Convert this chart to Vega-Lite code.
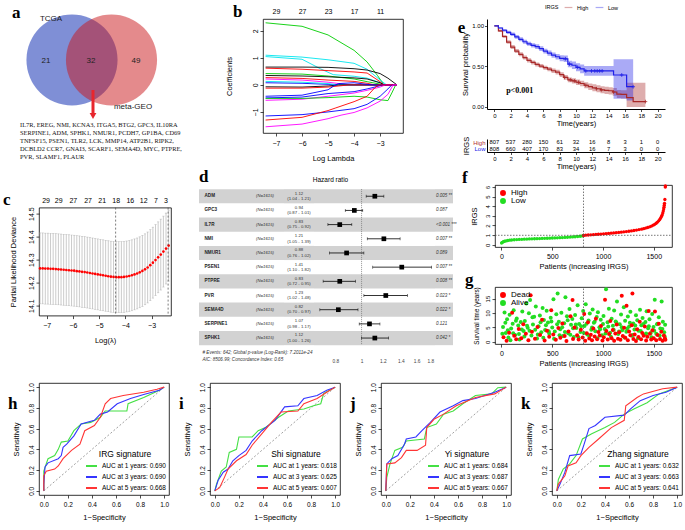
{
  "$schema": "https://vega.github.io/schema/vega-lite/v6.json",
  "background": "white",
  "padding": 2,
  "config": {
    "font": "Liberation Sans",
    "view": {"stroke": "#000", "strokeWidth": 0.8},
    "axis": {"labelFont": "Liberation Sans", "titleFont": "Liberation Sans", "labelFontSize": 7, "titleFontSize": 7.5, "titleFontWeight": "normal", "labelColor": "#000", "titleColor": "#000", "domain": false, "tickColor": "#000", "tickSize": 3, "tickWidth": 0.7, "grid": false, "labelPadding": 2, "titlePadding": 6, "labelFlush": false, "labelOverlap": false},
    "axisLeft": {"labelAngle": -90},
    "title": {"font": "Liberation Serif", "fontSize": 17, "fontWeight": "bold", "anchor": "start", "frame": "bounds", "color": "#000"},
    "legend": {"labelFont": "Liberation Sans", "titleFont": "Liberation Sans", "labelColor": "#000", "titleColor": "#000", "labelFontSize": 7, "titleFontSize": 7, "titleFontWeight": "normal"},
    "text": {"font": "Liberation Sans"}
  },
  "datasets": {
    "lasso": [
      {"g":"L1","x":-7.4,"y":2.3},{"g":"L1","x":-6,"y":2.17},{"g":"L1","x":-5,"y":1.85},{"g":"L1","x":-4,"y":1.28},{"g":"L1","x":-3.5,"y":0.85},{"g":"L1","x":-3.1,"y":0.35},{"g":"L1","x":-2.85,"y":0},{"g":"L1","x":-2.35,"y":0},
      {"g":"L2","x":-7.4,"y":1.1},{"g":"L2","x":-6,"y":1.03},{"g":"L2","x":-5,"y":0.93},{"g":"L2","x":-4,"y":0.8},{"g":"L2","x":-3.5,"y":0.58},{"g":"L2","x":-3,"y":0.18},{"g":"L2","x":-2.75,"y":0},{"g":"L2","x":-2.35,"y":0},
      {"g":"L3","x":-7.4,"y":1.05},{"g":"L3","x":-6,"y":0.95},{"g":"L3","x":-5.3,"y":0.6},{"g":"L3","x":-4.8,"y":0.38},{"g":"L3","x":-4,"y":0.32},{"g":"L3","x":-3.5,"y":0.25},{"g":"L3","x":-3,"y":0.08},{"g":"L3","x":-2.8,"y":0},{"g":"L3","x":-2.35,"y":0},
      {"g":"L4","x":-7.4,"y":0.66},{"g":"L4","x":-6,"y":0.66},{"g":"L4","x":-5,"y":0.65},{"g":"L4","x":-4,"y":0.6},{"g":"L4","x":-3.5,"y":0.55},{"g":"L4","x":-3,"y":0.42},{"g":"L4","x":-2.7,"y":0.25},{"g":"L4","x":-2.35,"y":0},
      {"g":"L5","x":-7.4,"y":0.62},{"g":"L5","x":-6,"y":0.58},{"g":"L5","x":-5,"y":0.53},{"g":"L5","x":-4,"y":0.48},{"g":"L5","x":-3.5,"y":0.44},{"g":"L5","x":-3,"y":0.12},{"g":"L5","x":-2.85,"y":0},{"g":"L5","x":-2.35,"y":0},
      {"g":"L6","x":-7.4,"y":0.42},{"g":"L6","x":-6,"y":0.4},{"g":"L6","x":-5,"y":0.33},{"g":"L6","x":-4,"y":0.22},{"g":"L6","x":-3.5,"y":0.12},{"g":"L6","x":-3,"y":0.03},{"g":"L6","x":-2.9,"y":0},{"g":"L6","x":-2.35,"y":0},
      {"g":"L7","x":-7.4,"y":0.35},{"g":"L7","x":-6,"y":0.33},{"g":"L7","x":-5,"y":0.3},{"g":"L7","x":-4,"y":0.26},{"g":"L7","x":-3.5,"y":0.22},{"g":"L7","x":-3,"y":0.08},{"g":"L7","x":-2.85,"y":0},{"g":"L7","x":-2.35,"y":0},
      {"g":"L8","x":-7.4,"y":0.27},{"g":"L8","x":-6,"y":0.24},{"g":"L8","x":-5,"y":0.18},{"g":"L8","x":-4,"y":0.13},{"g":"L8","x":-3.5,"y":0.06},{"g":"L8","x":-3.2,"y":0},{"g":"L8","x":-2.35,"y":0},
      {"g":"L9","x":-7.4,"y":0.22},{"g":"L9","x":-6,"y":0.18},{"g":"L9","x":-5,"y":0.1},{"g":"L9","x":-4.5,"y":0.04},{"g":"L9","x":-4.1,"y":0},{"g":"L9","x":-2.35,"y":0},
      {"g":"L10","x":-7.4,"y":0.08},{"g":"L10","x":-6,"y":0.06},{"g":"L10","x":-5,"y":0.02},{"g":"L10","x":-4.7,"y":0},{"g":"L10","x":-2.35,"y":0},
      {"g":"L11","x":-7.4,"y":0.13},{"g":"L11","x":-6,"y":0.1},{"g":"L11","x":-5,"y":0.05},{"g":"L11","x":-4.6,"y":0},{"g":"L11","x":-2.35,"y":0},
      {"g":"L12","x":-7.4,"y":-0.07},{"g":"L12","x":-6,"y":-0.08},{"g":"L12","x":-5,"y":-0.04},{"g":"L12","x":-4.6,"y":0},{"g":"L12","x":-2.35,"y":0},
      {"g":"L13","x":-7.4,"y":-0.12},{"g":"L13","x":-6,"y":-0.12},{"g":"L13","x":-5,"y":-0.08},{"g":"L13","x":-4.2,"y":0},{"g":"L13","x":-2.35,"y":0},
      {"g":"L14","x":-7.4,"y":-0.42},{"g":"L14","x":-6,"y":-0.38},{"g":"L14","x":-5,"y":-0.18},{"g":"L14","x":-4.8,"y":-0.05},{"g":"L14","x":-4.6,"y":0.05},{"g":"L14","x":-4,"y":0.08},{"g":"L14","x":-3.5,"y":0.02},{"g":"L14","x":-3.3,"y":0},{"g":"L14","x":-2.35,"y":0},
      {"g":"L15","x":-7.4,"y":-0.48},{"g":"L15","x":-6,"y":-0.45},{"g":"L15","x":-5,"y":-0.32},{"g":"L15","x":-4,"y":-0.25},{"g":"L15","x":-3.5,"y":-0.15},{"g":"L15","x":-3,"y":-0.03},{"g":"L15","x":-2.9,"y":0},{"g":"L15","x":-2.35,"y":0},
      {"g":"L16","x":-7.4,"y":-0.57},{"g":"L16","x":-6,"y":-0.53},{"g":"L16","x":-5,"y":-0.42},{"g":"L16","x":-4,"y":-0.3},{"g":"L16","x":-3.5,"y":-0.2},{"g":"L16","x":-3,"y":-0.08},{"g":"L16","x":-2.8,"y":0},{"g":"L16","x":-2.35,"y":0},
      {"g":"L17","x":-7.4,"y":-0.5},{"g":"L17","x":-6,"y":-0.5},{"g":"L17","x":-5,"y":-0.47},{"g":"L17","x":-4,"y":-0.42},{"g":"L17","x":-3.5,"y":-0.45},{"g":"L17","x":-3,"y":-0.55},{"g":"L17","x":-2.7,"y":-0.58},{"g":"L17","x":-2.55,"y":-0.3},{"g":"L17","x":-2.4,"y":0},{"g":"L17","x":-2.35,"y":0},
      {"g":"L18","x":-7.4,"y":-1.15},{"g":"L18","x":-6,"y":-1.1},{"g":"L18","x":-5,"y":-1.0},{"g":"L18","x":-4,"y":-0.88},{"g":"L18","x":-3.5,"y":-0.72},{"g":"L18","x":-3,"y":-0.42},{"g":"L18","x":-2.7,"y":-0.15},{"g":"L18","x":-2.55,"y":0},{"g":"L18","x":-2.35,"y":0},
      {"g":"L19","x":-7.4,"y":-1.3},{"g":"L19","x":-6,"y":-1.2},{"g":"L19","x":-5,"y":-0.95},{"g":"L19","x":-4.7,"y":-0.85},{"g":"L19","x":-4,"y":-0.62},{"g":"L19","x":-3.5,"y":-0.42},{"g":"L19","x":-3.2,"y":-0.1},{"g":"L19","x":-3.05,"y":0},{"g":"L19","x":-2.35,"y":0},
      {"g":"L20","x":-7.4,"y":-1.55},{"g":"L20","x":-6,"y":-1.45},{"g":"L20","x":-5,"y":-1.25},{"g":"L20","x":-4.5,"y":-1.12},{"g":"L20","x":-4,"y":-1.02},{"g":"L20","x":-3.5,"y":-0.85},{"g":"L20","x":-3,"y":-0.6},{"g":"L20","x":-2.7,"y":-0.35},{"g":"L20","x":-2.5,"y":0},{"g":"L20","x":-2.35,"y":0}
    ],
    "cv": [
      {"l":-7.25,"m":14.262,"lo":14.108,"hi":14.416},{"l":-7.15,"m":14.262,"lo":14.108,"hi":14.416},{"l":-7.05,"m":14.261,"lo":14.107,"hi":14.415},{"l":-6.95,"m":14.261,"lo":14.107,"hi":14.415},{"l":-6.85,"m":14.26,"lo":14.106,"hi":14.414},{"l":-6.75,"m":14.26,"lo":14.106,"hi":14.414},{"l":-6.65,"m":14.259,"lo":14.105,"hi":14.413},{"l":-6.55,"m":14.258,"lo":14.104,"hi":14.412},{"l":-6.45,"m":14.257,"lo":14.103,"hi":14.411},{"l":-6.35,"m":14.256,"lo":14.102,"hi":14.41},
      {"l":-6.25,"m":14.255,"lo":14.101,"hi":14.409},{"l":-6.15,"m":14.254,"lo":14.1,"hi":14.408},{"l":-6.05,"m":14.253,"lo":14.099,"hi":14.407},{"l":-5.95,"m":14.252,"lo":14.098,"hi":14.406},{"l":-5.85,"m":14.25,"lo":14.096,"hi":14.404},{"l":-5.75,"m":14.249,"lo":14.095,"hi":14.403},{"l":-5.65,"m":14.247,"lo":14.093,"hi":14.401},{"l":-5.55,"m":14.246,"lo":14.092,"hi":14.4},{"l":-5.45,"m":14.244,"lo":14.09,"hi":14.398},{"l":-5.35,"m":14.242,"lo":14.088,"hi":14.396},
      {"l":-5.25,"m":14.24,"lo":14.086,"hi":14.394},{"l":-5.15,"m":14.238,"lo":14.084,"hi":14.392},{"l":-5.05,"m":14.236,"lo":14.082,"hi":14.39},{"l":-4.95,"m":14.234,"lo":14.08,"hi":14.388},{"l":-4.85,"m":14.232,"lo":14.078,"hi":14.386},{"l":-4.75,"m":14.23,"lo":14.076,"hi":14.384},{"l":-4.65,"m":14.228,"lo":14.074,"hi":14.382},{"l":-4.55,"m":14.226,"lo":14.072,"hi":14.38},{"l":-4.45,"m":14.225,"lo":14.071,"hi":14.379},{"l":-4.35,"m":14.224,"lo":14.07,"hi":14.378},
      {"l":-4.25,"m":14.224,"lo":14.07,"hi":14.378},{"l":-4.15,"m":14.224,"lo":14.07,"hi":14.378},{"l":-4.05,"m":14.225,"lo":14.071,"hi":14.379},{"l":-3.95,"m":14.227,"lo":14.073,"hi":14.381},{"l":-3.85,"m":14.229,"lo":14.075,"hi":14.383},{"l":-3.75,"m":14.232,"lo":14.078,"hi":14.386},{"l":-3.65,"m":14.236,"lo":14.082,"hi":14.39},{"l":-3.55,"m":14.24,"lo":14.086,"hi":14.394},{"l":-3.45,"m":14.245,"lo":14.091,"hi":14.399},{"l":-3.35,"m":14.251,"lo":14.097,"hi":14.405},
      {"l":-3.25,"m":14.258,"lo":14.104,"hi":14.412},{"l":-3.15,"m":14.266,"lo":14.112,"hi":14.42},{"l":-3.05,"m":14.276,"lo":14.122,"hi":14.43},{"l":-2.95,"m":14.287,"lo":14.133,"hi":14.441},{"l":-2.85,"m":14.298,"lo":14.144,"hi":14.452},{"l":-2.75,"m":14.31,"lo":14.156,"hi":14.464},{"l":-2.65,"m":14.322,"lo":14.168,"hi":14.476},{"l":-2.55,"m":14.335,"lo":14.181,"hi":14.489},{"l":-2.45,"m":14.348,"lo":14.194,"hi":14.502},{"l":-2.35,"m":14.361,"lo":14.207,"hi":14.515}
    ],
    "forest": [
      {"gene":"ADM","n":"(N=1615)","hr":1.12,"lo":1.04,"hi":1.21,"hrt":"1.12","ci":"(1.04 - 1.21)","p":"0.005 **"},
      {"gene":"GPC3","n":"(N=1615)","hr":0.94,"lo":0.87,"hi":1.01,"hrt":"0.94","ci":"(0.87 - 1.01)","p":"0.087"},
      {"gene":"IL7R","n":"(N=1615)","hr":0.83,"lo":0.75,"hi":0.92,"hrt":"0.83","ci":"(0.75 - 0.92)","p":"<0.001 ***"},
      {"gene":"NMI","n":"(N=1615)","hr":1.21,"lo":1.05,"hi":1.39,"hrt":"1.21","ci":"(1.05 - 1.39)","p":"0.007 **"},
      {"gene":"NMUR1","n":"(N=1615)","hr":0.88,"lo":0.76,"hi":1.02,"hrt":"0.88","ci":"(0.76 - 1.02)","p":"0.089"},
      {"gene":"PSEN1","n":"(N=1615)","hr":1.41,"lo":1.1,"hi":1.82,"hrt":"1.41","ci":"(1.10 - 1.82)","p":"0.007 **"},
      {"gene":"PTPRE","n":"(N=1615)","hr":0.83,"lo":0.72,"hi":0.95,"hrt":"0.83","ci":"(0.72 - 0.95)","p":"0.008 **"},
      {"gene":"PVR","n":"(N=1615)","hr":1.23,"lo":1.02,"hi":1.48,"hrt":"1.23","ci":"(1.02 - 1.48)","p":"0.023 *"},
      {"gene":"SEMA4D","n":"(N=1615)","hr":0.82,"lo":0.7,"hi":0.97,"hrt":"0.82","ci":"(0.70 - 0.97)","p":"0.022 *"},
      {"gene":"SERPINE1","n":"(N=1615)","hr":1.07,"lo":0.98,"hi":1.17,"hrt":"1.07","ci":"(0.98 - 1.17)","p":"0.121"},
      {"gene":"SPHK1","n":"(N=1615)","hr":1.12,"lo":1.0,"hi":1.26,"hrt":"1.12","ci":"(1.00 - 1.26)","p":"0.042 *"}
    ],
    "km": [
      {"g":"High","t":0,"s":1,"lo":1,"hi":1},{"g":"High","t":0.5,"s":0.94,"lo":0.925,"hi":0.955},{"g":"High","t":1,"s":0.87,"lo":0.85,"hi":0.89},{"g":"High","t":1.5,"s":0.8,"lo":0.78,"hi":0.825},{"g":"High","t":2,"s":0.74,"lo":0.715,"hi":0.765},{"g":"High","t":2.5,"s":0.69,"lo":0.665,"hi":0.715},{"g":"High","t":3,"s":0.65,"lo":0.625,"hi":0.675},{"g":"High","t":3.5,"s":0.61,"lo":0.585,"hi":0.635},{"g":"High","t":4,"s":0.575,"lo":0.55,"hi":0.6},{"g":"High","t":4.5,"s":0.55,"lo":0.525,"hi":0.575},
      {"g":"High","t":5,"s":0.525,"lo":0.5,"hi":0.55},{"g":"High","t":5.5,"s":0.505,"lo":0.48,"hi":0.53},{"g":"High","t":6,"s":0.485,"lo":0.46,"hi":0.51},{"g":"High","t":6.5,"s":0.467,"lo":0.44,"hi":0.495},{"g":"High","t":7,"s":0.447,"lo":0.42,"hi":0.475},{"g":"High","t":7.5,"s":0.43,"lo":0.4,"hi":0.46},{"g":"High","t":8,"s":0.4,"lo":0.37,"hi":0.43},{"g":"High","t":8.5,"s":0.365,"lo":0.335,"hi":0.395},{"g":"High","t":9,"s":0.335,"lo":0.305,"hi":0.365},{"g":"High","t":9.5,"s":0.322,"lo":0.29,"hi":0.355},
      {"g":"High","t":10,"s":0.305,"lo":0.27,"hi":0.34},{"g":"High","t":10.5,"s":0.29,"lo":0.255,"hi":0.325},{"g":"High","t":11,"s":0.268,"lo":0.23,"hi":0.305},{"g":"High","t":11.5,"s":0.25,"lo":0.21,"hi":0.29},{"g":"High","t":12,"s":0.237,"lo":0.195,"hi":0.28},{"g":"High","t":12.5,"s":0.225,"lo":0.183,"hi":0.268},{"g":"High","t":13,"s":0.212,"lo":0.17,"hi":0.255},{"g":"High","t":13.5,"s":0.205,"lo":0.16,"hi":0.25},{"g":"High","t":14,"s":0.2,"lo":0.155,"hi":0.245},{"g":"High","t":14.5,"s":0.185,"lo":0.14,"hi":0.235},
      {"g":"High","t":15,"s":0.158,"lo":0.11,"hi":0.21},{"g":"High","t":15.5,"s":0.155,"lo":0.105,"hi":0.205},{"g":"High","t":16.2,"s":0.115,"lo":0.0,"hi":0.3},{"g":"High","t":17,"s":0.066,"lo":0.0,"hi":0.3},{"g":"High","t":18.5,"s":0.066,"lo":0.0,"hi":0.3},
      {"g":"Low","t":0,"s":1,"lo":1,"hi":1},{"g":"Low","t":0.5,"s":0.975,"lo":0.965,"hi":0.985},{"g":"Low","t":1,"s":0.947,"lo":0.93,"hi":0.962},{"g":"Low","t":1.5,"s":0.92,"lo":0.9,"hi":0.94},{"g":"Low","t":2,"s":0.897,"lo":0.875,"hi":0.918},{"g":"Low","t":2.5,"s":0.866,"lo":0.843,"hi":0.889},{"g":"Low","t":3,"s":0.835,"lo":0.81,"hi":0.86},{"g":"Low","t":3.5,"s":0.805,"lo":0.78,"hi":0.83},{"g":"Low","t":4,"s":0.78,"lo":0.755,"hi":0.805},{"g":"Low","t":4.5,"s":0.76,"lo":0.733,"hi":0.787},
      {"g":"Low","t":5,"s":0.745,"lo":0.717,"hi":0.773},{"g":"Low","t":5.5,"s":0.72,"lo":0.69,"hi":0.75},{"g":"Low","t":6,"s":0.69,"lo":0.66,"hi":0.72},{"g":"Low","t":6.5,"s":0.665,"lo":0.633,"hi":0.697},{"g":"Low","t":7,"s":0.64,"lo":0.607,"hi":0.673},{"g":"Low","t":7.5,"s":0.62,"lo":0.585,"hi":0.655},{"g":"Low","t":8,"s":0.6,"lo":0.563,"hi":0.637},{"g":"Low","t":8.5,"s":0.595,"lo":0.555,"hi":0.635},{"g":"Low","t":9,"s":0.53,"lo":0.49,"hi":0.57},{"g":"Low","t":9.5,"s":0.515,"lo":0.47,"hi":0.56},
      {"g":"Low","t":10,"s":0.49,"lo":0.44,"hi":0.54},{"g":"Low","t":10.5,"s":0.47,"lo":0.415,"hi":0.525},{"g":"Low","t":11,"s":0.445,"lo":0.385,"hi":0.505},{"g":"Low","t":14.6,"s":0.395,"lo":0.1,"hi":0.59},{"g":"Low","t":16.2,"s":0.25,"lo":0.08,"hi":0.59},{"g":"Low","t":17,"s":0.25,"lo":0.08,"hi":0.59}
    ],
    "cens": [
      {"g":"High","t":8.6,"s":0.365},{"g":"High","t":9.3,"s":0.335},{"g":"High","t":9.8,"s":0.322},{"g":"High","t":10.3,"s":0.305},{"g":"High","t":11.2,"s":0.268},{"g":"High","t":12.5,"s":0.225},{"g":"High","t":13.1,"s":0.212},{"g":"High","t":14.6,"s":0.185},{"g":"High","t":18.5,"s":0.066},
      {"g":"Low","t":8.7,"s":0.595},{"g":"Low","t":9.2,"s":0.53},{"g":"Low","t":10.2,"s":0.49},{"g":"Low","t":11.2,"s":0.445},{"g":"Low","t":11.9,"s":0.445},{"g":"Low","t":12.3,"s":0.445},{"g":"Low","t":12.6,"s":0.445},{"g":"Low","t":12.9,"s":0.445},{"g":"Low","t":13.2,"s":0.445},{"g":"Low","t":15.6,"s":0.395},{"g":"Low","t":17,"s":0.25}
    ],
    "risk": [
      {"g":"High","t":0,"n":"807"},{"g":"High","t":2,"n":"537"},{"g":"High","t":4,"n":"280"},{"g":"High","t":6,"n":"150"},{"g":"High","t":8,"n":"61"},{"g":"High","t":10,"n":"32"},{"g":"High","t":12,"n":"16"},{"g":"High","t":14,"n":"8"},{"g":"High","t":16,"n":"3"},{"g":"High","t":18,"n":"1"},{"g":"High","t":20,"n":"0"},
      {"g":"Low","t":0,"n":"808"},{"g":"Low","t":2,"n":"660"},{"g":"Low","t":4,"n":"407"},{"g":"Low","t":6,"n":"170"},{"g":"Low","t":8,"n":"83"},{"g":"Low","t":10,"n":"34"},{"g":"Low","t":12,"n":"16"},{"g":"Low","t":14,"n":"7"},{"g":"Low","t":16,"n":"3"},{"g":"Low","t":18,"n":"0"},{"g":"Low","t":20,"n":"0"}
    ],
    "rs": [
      {"g":"Low","p":1,"r":0.18},{"g":"Low","p":8,"r":0.25},{"g":"Low","p":18,"r":0.31},{"g":"Low","p":30,"r":0.36},{"g":"Low","p":45,"r":0.4},{"g":"Low","p":62,"r":0.44},{"g":"Low","p":80,"r":0.47},{"g":"Low","p":100,"r":0.49},{"g":"Low","p":125,"r":0.515},{"g":"Low","p":150,"r":0.535},{"g":"Low","p":175,"r":0.55},{"g":"Low","p":200,"r":0.565},{"g":"Low","p":225,"r":0.578},{"g":"Low","p":250,"r":0.59},{"g":"Low","p":275,"r":0.6},{"g":"Low","p":300,"r":0.612},{"g":"Low","p":325,"r":0.622},{"g":"Low","p":350,"r":0.633},{"g":"Low","p":375,"r":0.643},{"g":"Low","p":400,"r":0.653},{"g":"Low","p":425,"r":0.663},{"g":"Low","p":450,"r":0.674},{"g":"Low","p":475,"r":0.685},{"g":"Low","p":500,"r":0.697},{"g":"Low","p":525,"r":0.709},{"g":"Low","p":550,"r":0.721},{"g":"Low","p":575,"r":0.734},{"g":"Low","p":600,"r":0.747},{"g":"Low","p":625,"r":0.761},{"g":"Low","p":650,"r":0.776},{"g":"Low","p":675,"r":0.792},{"g":"Low","p":700,"r":0.81},{"g":"Low","p":725,"r":0.83},{"g":"Low","p":750,"r":0.855},{"g":"Low","p":775,"r":0.885},{"g":"Low","p":795,"r":0.92},{"g":"Low","p":807,"r":0.96},
      {"g":"High","p":808,"r":0.97},{"g":"High","p":830,"r":0.99},{"g":"High","p":855,"r":1.01},{"g":"High","p":880,"r":1.03},{"g":"High","p":905,"r":1.05},{"g":"High","p":930,"r":1.07},{"g":"High","p":955,"r":1.09},{"g":"High","p":980,"r":1.11},{"g":"High","p":1005,"r":1.13},{"g":"High","p":1030,"r":1.155},{"g":"High","p":1055,"r":1.18},{"g":"High","p":1080,"r":1.205},{"g":"High","p":1105,"r":1.23},{"g":"High","p":1130,"r":1.255},{"g":"High","p":1155,"r":1.28},{"g":"High","p":1180,"r":1.31},{"g":"High","p":1205,"r":1.34},{"g":"High","p":1230,"r":1.37},{"g":"High","p":1255,"r":1.4},{"g":"High","p":1280,"r":1.44},{"g":"High","p":1305,"r":1.48},{"g":"High","p":1330,"r":1.52},{"g":"High","p":1355,"r":1.57},{"g":"High","p":1380,"r":1.62},{"g":"High","p":1400,"r":1.67},{"g":"High","p":1420,"r":1.73},{"g":"High","p":1440,"r":1.79},{"g":"High","p":1460,"r":1.86},{"g":"High","p":1478,"r":1.94},{"g":"High","p":1495,"r":2.03},{"g":"High","p":1510,"r":2.12},{"g":"High","p":1524,"r":2.23},{"g":"High","p":1537,"r":2.35},{"g":"High","p":1549,"r":2.48},{"g":"High","p":1559,"r":2.62},{"g":"High","p":1568,"r":2.77},{"g":"High","p":1576,"r":2.93},{"g":"High","p":1583,"r":3.1},{"g":"High","p":1589,"r":3.3},{"g":"High","p":1594,"r":3.5},{"g":"High","p":1598,"r":3.7},{"g":"High","p":1601,"r":3.9},{"g":"High","p":1604,"r":4.1},{"g":"High","p":1606,"r":4.3},{"g":"High","p":1610,"r":4.7},{"g":"High","p":1614,"r":6.0},{"g":"High","p":1615,"r":6.1}
    ],
    "st": [
      {"g":"Alive","p":15,"t":5.2},{"g":"Alive","p":30,"t":10.2},{"g":"Alive","p":42,"t":3.1},{"g":"Alive","p":55,"t":7.8},{"g":"Alive","p":68,"t":1.5},{"g":"Alive","p":80,"t":9.4},{"g":"Alive","p":95,"t":4.6},{"g":"Alive","p":110,"t":6.3},{"g":"Alive","p":120,"t":11.0},{"g":"Alive","p":135,"t":2.4},{"g":"Alive","p":150,"t":8.1},{"g":"Alive","p":165,"t":5.7},{"g":"Alive","p":178,"t":0.8},{"g":"Alive","p":190,"t":6.9},{"g":"Alive","p":205,"t":10.5},{"g":"Alive","p":218,"t":3.8},{"g":"Alive","p":230,"t":7.2},{"g":"Alive","p":245,"t":13.3},{"g":"Alive","p":258,"t":4.9},{"g":"Alive","p":270,"t":9.9},{"g":"Alive","p":282,"t":14.5},{"g":"Alive","p":295,"t":2.2},{"g":"Alive","p":310,"t":6.0},{"g":"Alive","p":322,"t":8.7},{"g":"Alive","p":338,"t":12.3},{"g":"Alive","p":350,"t":1.2},{"g":"Alive","p":365,"t":5.4},{"g":"Alive","p":378,"t":9.1},{"g":"Alive","p":392,"t":3.3},{"g":"Alive","p":405,"t":11.7},{"g":"Alive","p":418,"t":7.6},{"g":"Alive","p":430,"t":4.1},{"g":"Alive","p":445,"t":10.8},{"g":"Alive","p":458,"t":6.7},{"g":"Alive","p":470,"t":2.9},{"g":"Alive","p":485,"t":8.4},{"g":"Alive","p":500,"t":5.0},{"g":"Alive","p":512,"t":14.8},{"g":"Alive","p":525,"t":3.6},{"g":"Alive","p":540,"t":9.6},{"g":"Alive","p":553,"t":16.8},{"g":"Alive","p":565,"t":7.0},{"g":"Alive","p":578,"t":4.4},{"g":"Alive","p":590,"t":10.1},{"g":"Alive","p":605,"t":2.0},{"g":"Alive","p":618,"t":6.5},{"g":"Alive","p":630,"t":15.5},{"g":"Alive","p":645,"t":8.9},{"g":"Alive","p":658,"t":3.0},{"g":"Alive","p":670,"t":11.4},{"g":"Alive","p":685,"t":5.9},{"g":"Alive","p":698,"t":7.9},{"g":"Alive","p":712,"t":1.7},{"g":"Alive","p":725,"t":9.3},{"g":"Alive","p":738,"t":4.8},{"g":"Alive","p":750,"t":12.7},{"g":"Alive","p":765,"t":6.2},{"g":"Alive","p":778,"t":3.4},{"g":"Alive","p":790,"t":8.2},{"g":"Alive","p":805,"t":10.7},{"g":"Alive","p":818,"t":5.5},{"g":"Alive","p":830,"t":13.0},{"g":"Alive","p":845,"t":2.6},{"g":"Alive","p":858,"t":7.4},{"g":"Alive","p":870,"t":9.8},{"g":"Alive","p":885,"t":4.2},{"g":"Alive","p":898,"t":11.2},{"g":"Alive","p":910,"t":6.6},{"g":"Alive","p":925,"t":3.7},{"g":"Alive","p":938,"t":8.6},{"g":"Alive","p":950,"t":10.3},{"g":"Alive","p":965,"t":5.1},{"g":"Alive","p":978,"t":7.7},{"g":"Alive","p":990,"t":2.3},{"g":"Alive","p":1005,"t":9.0},{"g":"Alive","p":1018,"t":4.5},{"g":"Alive","p":1030,"t":18.2},{"g":"Alive","p":1045,"t":6.8},{"g":"Alive","p":1058,"t":11.5},{"g":"Alive","p":1070,"t":3.2},{"g":"Alive","p":1085,"t":8.0},{"g":"Alive","p":1098,"t":5.6},{"g":"Alive","p":1110,"t":10.9},{"g":"Alive","p":1125,"t":7.1},{"g":"Alive","p":1138,"t":14.0},{"g":"Alive","p":1150,"t":2.7},{"g":"Alive","p":1165,"t":6.1},{"g":"Alive","p":1178,"t":9.5},{"g":"Alive","p":1190,"t":4.0},{"g":"Alive","p":1205,"t":12.0},{"g":"Alive","p":1218,"t":7.3},{"g":"Alive","p":1230,"t":3.5},{"g":"Alive","p":1245,"t":8.8},{"g":"Alive","p":1258,"t":5.3},{"g":"Alive","p":1270,"t":10.4},{"g":"Alive","p":1285,"t":2.1},{"g":"Alive","p":1298,"t":6.4},{"g":"Alive","p":1310,"t":4.3},{"g":"Alive","p":1325,"t":9.2},{"g":"Alive","p":1338,"t":7.5},{"g":"Alive","p":1350,"t":3.9},{"g":"Alive","p":1365,"t":11.1},{"g":"Alive","p":1378,"t":5.8},{"g":"Alive","p":1390,"t":8.3},{"g":"Alive","p":1405,"t":2.5},{"g":"Alive","p":1418,"t":6.9},{"g":"Alive","p":1430,"t":10.6},{"g":"Alive","p":1445,"t":4.7},{"g":"Alive","p":1458,"t":7.8},{"g":"Alive","p":1470,"t":3.1},{"g":"Alive","p":1485,"t":9.7},{"g":"Alive","p":1498,"t":5.2},{"g":"Alive","p":1510,"t":14.6},{"g":"Alive","p":1525,"t":2.8},{"g":"Alive","p":1538,"t":6.3},{"g":"Alive","p":1550,"t":8.5},{"g":"Alive","p":1565,"t":4.6},{"g":"Alive","p":1578,"t":14.0},{"g":"Alive","p":1590,"t":7.0},{"g":"Alive","p":1603,"t":3.3},{"g":"Alive","p":1612,"t":5.9},
      {"g":"Alive","p":8,"t":2.8},{"g":"Alive","p":38,"t":6.6},{"g":"Alive","p":62,"t":4.0},{"g":"Alive","p":88,"t":0.6},{"g":"Alive","p":115,"t":3.0},{"g":"Alive","p":142,"t":7.3},{"g":"Alive","p":172,"t":2.7},{"g":"Alive","p":200,"t":4.3},{"g":"Alive","p":225,"t":1.9},{"g":"Alive","p":252,"t":5.6},{"g":"Alive","p":276,"t":3.9},{"g":"Alive","p":305,"t":8.5},{"g":"Alive","p":332,"t":4.2},{"g":"Alive","p":358,"t":2.6},{"g":"Alive","p":385,"t":6.8},{"g":"Alive","p":412,"t":1.4},{"g":"Alive","p":438,"t":5.8},{"g":"Alive","p":465,"t":3.7},{"g":"Alive","p":492,"t":7.1},{"g":"Alive","p":518,"t":1.1},{"g":"Alive","p":548,"t":6.1},{"g":"Alive","p":572,"t":2.3},{"g":"Alive","p":598,"t":5.1},{"g":"Alive","p":625,"t":3.4},{"g":"Alive","p":652,"t":7.5},{"g":"Alive","p":678,"t":2.5},{"g":"Alive","p":705,"t":4.7},{"g":"Alive","p":732,"t":6.0},{"g":"Alive","p":758,"t":1.6},{"g":"Alive","p":785,"t":5.4},{"g":"Alive","p":812,"t":3.1},{"g":"Alive","p":838,"t":6.3},{"g":"Alive","p":865,"t":2.0},{"g":"Alive","p":892,"t":5.0},{"g":"Alive","p":918,"t":7.0},{"g":"Alive","p":945,"t":1.3},{"g":"Alive","p":972,"t":4.4},{"g":"Alive","p":1000,"t":6.2},{"g":"Alive","p":1025,"t":2.9},{"g":"Alive","p":1052,"t":5.3},{"g":"Alive","p":1078,"t":1.8},{"g":"Alive","p":1105,"t":4.2},{"g":"Alive","p":1132,"t":6.7},{"g":"Alive","p":1158,"t":3.6},{"g":"Alive","p":1185,"t":5.1},{"g":"Alive","p":1212,"t":1.5},{"g":"Alive","p":1238,"t":4.6},{"g":"Alive","p":1265,"t":6.6},{"g":"Alive","p":1292,"t":2.4},{"g":"Alive","p":1318,"t":5.7},{"g":"Alive","p":1345,"t":1.3},{"g":"Alive","p":1372,"t":3.8},{"g":"Alive","p":1398,"t":6.2},{"g":"Alive","p":1425,"t":2.9},{"g":"Alive","p":1452,"t":5.4},{"g":"Alive","p":1478,"t":1.6},{"g":"Alive","p":1505,"t":3.9},{"g":"Alive","p":1532,"t":6.1},{"g":"Alive","p":1558,"t":2.2},{"g":"Alive","p":1585,"t":4.5},{"g":"Alive","p":1608,"t":1.9},
      {"g":"Dead","p":20,"t":1.6},{"g":"Dead","p":50,"t":0.4},{"g":"Dead","p":75,"t":3.2},{"g":"Dead","p":105,"t":10.1},{"g":"Dead","p":125,"t":2.1},{"g":"Dead","p":145,"t":0.9},{"g":"Dead","p":170,"t":4.5},{"g":"Dead","p":195,"t":1.3},{"g":"Dead","p":215,"t":6.1},{"g":"Dead","p":240,"t":2.8},{"g":"Dead","p":265,"t":0.6},{"g":"Dead","p":287,"t":16.2},{"g":"Dead","p":300,"t":3.5},{"g":"Dead","p":330,"t":1.1},{"g":"Dead","p":355,"t":5.2},{"g":"Dead","p":380,"t":2.4},{"g":"Dead","p":400,"t":7.7},{"g":"Dead","p":425,"t":0.5},{"g":"Dead","p":448,"t":3.9},{"g":"Dead","p":470,"t":1.8},{"g":"Dead","p":490,"t":11.0},{"g":"Dead","p":510,"t":2.6},{"g":"Dead","p":535,"t":0.7},{"g":"Dead","p":560,"t":4.8},{"g":"Dead","p":580,"t":1.4},{"g":"Dead","p":600,"t":6.4},{"g":"Dead","p":622,"t":2.0},{"g":"Dead","p":640,"t":0.3},{"g":"Dead","p":660,"t":3.6},{"g":"Dead","p":680,"t":8.9},{"g":"Dead","p":700,"t":14.5},{"g":"Dead","p":705,"t":1.0},{"g":"Dead","p":720,"t":5.0},{"g":"Dead","p":745,"t":2.3},{"g":"Dead","p":760,"t":0.8},{"g":"Dead","p":782,"t":4.2},{"g":"Dead","p":800,"t":1.5},{"g":"Dead","p":815,"t":9.7},{"g":"Dead","p":825,"t":0.4},{"g":"Dead","p":840,"t":3.0},{"g":"Dead","p":852,"t":6.8},{"g":"Dead","p":865,"t":1.2},{"g":"Dead","p":880,"t":2.5},{"g":"Dead","p":892,"t":0.6},{"g":"Dead","p":905,"t":4.6},{"g":"Dead","p":918,"t":1.9},{"g":"Dead","p":930,"t":8.0},{"g":"Dead","p":942,"t":0.9},{"g":"Dead","p":955,"t":3.4},{"g":"Dead","p":968,"t":2.2},{"g":"Dead","p":980,"t":5.5},{"g":"Dead","p":995,"t":0.5},{"g":"Dead","p":1008,"t":1.6},{"g":"Dead","p":1020,"t":14.6},{"g":"Dead","p":1033,"t":3.8},{"g":"Dead","p":1047,"t":0.8},{"g":"Dead","p":1060,"t":2.7},{"g":"Dead","p":1072,"t":7.2},{"g":"Dead","p":1085,"t":1.3},{"g":"Dead","p":1097,"t":4.1},{"g":"Dead","p":1110,"t":0.4},{"g":"Dead","p":1122,"t":2.9},{"g":"Dead","p":1135,"t":6.0},{"g":"Dead","p":1148,"t":1.1},{"g":"Dead","p":1160,"t":3.3},{"g":"Dead","p":1172,"t":0.7},{"g":"Dead","p":1185,"t":16.0},{"g":"Dead","p":1195,"t":2.0},{"g":"Dead","p":1208,"t":4.9},{"g":"Dead","p":1220,"t":1.4},{"g":"Dead","p":1232,"t":12.5},{"g":"Dead","p":1245,"t":0.6},{"g":"Dead","p":1257,"t":3.6},{"g":"Dead","p":1270,"t":2.3},{"g":"Dead","p":1283,"t":5.8},{"g":"Dead","p":1290,"t":16.8},{"g":"Dead","p":1300,"t":1.0},{"g":"Dead","p":1312,"t":2.6},{"g":"Dead","p":1325,"t":0.3},{"g":"Dead","p":1337,"t":4.4},{"g":"Dead","p":1350,"t":1.7},{"g":"Dead","p":1362,"t":7.0},{"g":"Dead","p":1375,"t":0.9},{"g":"Dead","p":1387,"t":3.1},{"g":"Dead","p":1400,"t":2.1},{"g":"Dead","p":1412,"t":5.3},{"g":"Dead","p":1425,"t":0.5},{"g":"Dead","p":1437,"t":1.8},{"g":"Dead","p":1450,"t":10.7},{"g":"Dead","p":1462,"t":2.8},{"g":"Dead","p":1475,"t":0.8},{"g":"Dead","p":1487,"t":4.0},{"g":"Dead","p":1500,"t":1.3},{"g":"Dead","p":1512,"t":10.5},{"g":"Dead","p":1525,"t":0.6},{"g":"Dead","p":1537,"t":2.4},{"g":"Dead","p":1550,"t":6.3},{"g":"Dead","p":1562,"t":1.0},{"g":"Dead","p":1575,"t":3.5},{"g":"Dead","p":1587,"t":0.4},{"g":"Dead","p":1600,"t":2.2},{"g":"Dead","p":1610,"t":1.2},{"g":"Dead","p":1615,"t":0.7}
    ],
    "rocH": [
      {"s":"AUC at 1 years: 0.690","x":0,"y":0},{"s":"AUC at 1 years: 0.690","x":0,"y":0.19},{"s":"AUC at 1 years: 0.690","x":0.02,"y":0.26},{"s":"AUC at 1 years: 0.690","x":0.035,"y":0.31},{"s":"AUC at 1 years: 0.690","x":0.09,"y":0.34},{"s":"AUC at 1 years: 0.690","x":0.12,"y":0.4},{"s":"AUC at 1 years: 0.690","x":0.145,"y":0.47},{"s":"AUC at 1 years: 0.690","x":0.2,"y":0.48},{"s":"AUC at 1 years: 0.690","x":0.25,"y":0.58},{"s":"AUC at 1 years: 0.690","x":0.31,"y":0.645},{"s":"AUC at 1 years: 0.690","x":0.39,"y":0.66},{"s":"AUC at 1 years: 0.690","x":0.47,"y":0.71},{"s":"AUC at 1 years: 0.690","x":0.51,"y":0.77},{"s":"AUC at 1 years: 0.690","x":0.69,"y":0.77},{"s":"AUC at 1 years: 0.690","x":0.7,"y":0.84},{"s":"AUC at 1 years: 0.690","x":0.83,"y":0.9},{"s":"AUC at 1 years: 0.690","x":0.96,"y":0.97},{"s":"AUC at 1 years: 0.690","x":1,"y":1},
      {"s":"AUC at 3 years: 0.690","x":0,"y":0},{"s":"AUC at 3 years: 0.690","x":0,"y":0.065},{"s":"AUC at 3 years: 0.690","x":0.01,"y":0.23},{"s":"AUC at 3 years: 0.690","x":0.035,"y":0.27},{"s":"AUC at 3 years: 0.690","x":0.12,"y":0.31},{"s":"AUC at 3 years: 0.690","x":0.145,"y":0.34},{"s":"AUC at 3 years: 0.690","x":0.16,"y":0.42},{"s":"AUC at 3 years: 0.690","x":0.19,"y":0.45},{"s":"AUC at 3 years: 0.690","x":0.25,"y":0.53},{"s":"AUC at 3 years: 0.690","x":0.31,"y":0.645},{"s":"AUC at 3 years: 0.690","x":0.42,"y":0.68},{"s":"AUC at 3 years: 0.690","x":0.47,"y":0.74},{"s":"AUC at 3 years: 0.690","x":0.53,"y":0.76},{"s":"AUC at 3 years: 0.690","x":0.61,"y":0.84},{"s":"AUC at 3 years: 0.690","x":0.72,"y":0.89},{"s":"AUC at 3 years: 0.690","x":0.83,"y":0.93},{"s":"AUC at 3 years: 0.690","x":0.96,"y":0.97},{"s":"AUC at 3 years: 0.690","x":1,"y":1},
      {"s":"AUC at 5 years: 0.668","x":0,"y":0},{"s":"AUC at 5 years: 0.668","x":0,"y":0.145},{"s":"AUC at 5 years: 0.668","x":0.02,"y":0.19},{"s":"AUC at 5 years: 0.668","x":0.09,"y":0.21},{"s":"AUC at 5 years: 0.668","x":0.12,"y":0.24},{"s":"AUC at 5 years: 0.668","x":0.16,"y":0.31},{"s":"AUC at 5 years: 0.668","x":0.23,"y":0.39},{"s":"AUC at 5 years: 0.668","x":0.3,"y":0.45},{"s":"AUC at 5 years: 0.668","x":0.34,"y":0.58},{"s":"AUC at 5 years: 0.668","x":0.42,"y":0.63},{"s":"AUC at 5 years: 0.668","x":0.47,"y":0.71},{"s":"AUC at 5 years: 0.668","x":0.51,"y":0.84},{"s":"AUC at 5 years: 0.668","x":0.555,"y":0.89},{"s":"AUC at 5 years: 0.668","x":0.66,"y":0.92},{"s":"AUC at 5 years: 0.668","x":0.83,"y":0.95},{"s":"AUC at 5 years: 0.668","x":0.94,"y":0.98},{"s":"AUC at 5 years: 0.668","x":1,"y":1}
    ],
    "rocI": [
      {"s":"AUC at 1 years: 0.618","x":0,"y":0},{"s":"AUC at 1 years: 0.618","x":0.014,"y":0.065},{"s":"AUC at 1 years: 0.618","x":0.054,"y":0.19},{"s":"AUC at 1 years: 0.618","x":0.095,"y":0.23},{"s":"AUC at 1 years: 0.618","x":0.12,"y":0.37},{"s":"AUC at 1 years: 0.618","x":0.18,"y":0.4},{"s":"AUC at 1 years: 0.618","x":0.2,"y":0.52},{"s":"AUC at 1 years: 0.618","x":0.31,"y":0.52},{"s":"AUC at 1 years: 0.618","x":0.36,"y":0.58},{"s":"AUC at 1 years: 0.618","x":0.42,"y":0.61},{"s":"AUC at 1 years: 0.618","x":0.53,"y":0.71},{"s":"AUC at 1 years: 0.618","x":0.61,"y":0.77},{"s":"AUC at 1 years: 0.618","x":0.74,"y":0.79},{"s":"AUC at 1 years: 0.618","x":0.82,"y":0.82},{"s":"AUC at 1 years: 0.618","x":0.88,"y":0.84},{"s":"AUC at 1 years: 0.618","x":0.905,"y":0.94},{"s":"AUC at 1 years: 0.618","x":1,"y":1},
      {"s":"AUC at 3 years: 0.625","x":0,"y":0},{"s":"AUC at 3 years: 0.625","x":0.027,"y":0.1},{"s":"AUC at 3 years: 0.625","x":0.07,"y":0.18},{"s":"AUC at 3 years: 0.625","x":0.11,"y":0.21},{"s":"AUC at 3 years: 0.625","x":0.15,"y":0.29},{"s":"AUC at 3 years: 0.625","x":0.2,"y":0.34},{"s":"AUC at 3 years: 0.625","x":0.26,"y":0.39},{"s":"AUC at 3 years: 0.625","x":0.31,"y":0.48},{"s":"AUC at 3 years: 0.625","x":0.39,"y":0.58},{"s":"AUC at 3 years: 0.625","x":0.5,"y":0.68},{"s":"AUC at 3 years: 0.625","x":0.58,"y":0.81},{"s":"AUC at 3 years: 0.625","x":0.69,"y":0.82},{"s":"AUC at 3 years: 0.625","x":0.74,"y":0.89},{"s":"AUC at 3 years: 0.625","x":0.85,"y":0.92},{"s":"AUC at 3 years: 0.625","x":0.93,"y":0.97},{"s":"AUC at 3 years: 0.625","x":1,"y":1},
      {"s":"AUC at 5 years: 0.607","x":0,"y":0},{"s":"AUC at 5 years: 0.607","x":0.04,"y":0.03},{"s":"AUC at 5 years: 0.607","x":0.08,"y":0.13},{"s":"AUC at 5 years: 0.607","x":0.11,"y":0.21},{"s":"AUC at 5 years: 0.607","x":0.18,"y":0.29},{"s":"AUC at 5 years: 0.607","x":0.26,"y":0.35},{"s":"AUC at 5 years: 0.607","x":0.31,"y":0.44},{"s":"AUC at 5 years: 0.607","x":0.39,"y":0.55},{"s":"AUC at 5 years: 0.607","x":0.47,"y":0.66},{"s":"AUC at 5 years: 0.607","x":0.55,"y":0.76},{"s":"AUC at 5 years: 0.607","x":0.69,"y":0.77},{"s":"AUC at 5 years: 0.607","x":0.74,"y":0.84},{"s":"AUC at 5 years: 0.607","x":0.85,"y":0.89},{"s":"AUC at 5 years: 0.607","x":0.93,"y":0.95},{"s":"AUC at 5 years: 0.607","x":1,"y":1}
    ],
    "rocJ": [
      {"s":"AUC at 1 years: 0.684","x":0,"y":0},{"s":"AUC at 1 years: 0.684","x":0.008,"y":0.13},{"s":"AUC at 1 years: 0.684","x":0.035,"y":0.26},{"s":"AUC at 1 years: 0.684","x":0.075,"y":0.39},{"s":"AUC at 1 years: 0.684","x":0.14,"y":0.42},{"s":"AUC at 1 years: 0.684","x":0.17,"y":0.48},{"s":"AUC at 1 years: 0.684","x":0.32,"y":0.5},{"s":"AUC at 1 years: 0.684","x":0.34,"y":0.61},{"s":"AUC at 1 years: 0.684","x":0.42,"y":0.645},{"s":"AUC at 1 years: 0.684","x":0.48,"y":0.74},{"s":"AUC at 1 years: 0.684","x":0.56,"y":0.77},{"s":"AUC at 1 years: 0.684","x":0.64,"y":0.84},{"s":"AUC at 1 years: 0.684","x":0.745,"y":0.92},{"s":"AUC at 1 years: 0.684","x":0.88,"y":0.935},{"s":"AUC at 1 years: 0.684","x":0.93,"y":0.995},{"s":"AUC at 1 years: 0.684","x":1,"y":1},
      {"s":"AUC at 3 years: 0.687","x":0,"y":0},{"s":"AUC at 3 years: 0.687","x":0.008,"y":0.26},{"s":"AUC at 3 years: 0.687","x":0.05,"y":0.31},{"s":"AUC at 3 years: 0.687","x":0.1,"y":0.34},{"s":"AUC at 3 years: 0.687","x":0.155,"y":0.45},{"s":"AUC at 3 years: 0.687","x":0.17,"y":0.5},{"s":"AUC at 3 years: 0.687","x":0.25,"y":0.52},{"s":"AUC at 3 years: 0.687","x":0.3,"y":0.58},{"s":"AUC at 3 years: 0.687","x":0.37,"y":0.66},{"s":"AUC at 3 years: 0.687","x":0.45,"y":0.76},{"s":"AUC at 3 years: 0.687","x":0.56,"y":0.82},{"s":"AUC at 3 years: 0.687","x":0.64,"y":0.87},{"s":"AUC at 3 years: 0.687","x":0.745,"y":0.89},{"s":"AUC at 3 years: 0.687","x":0.905,"y":0.95},{"s":"AUC at 3 years: 0.687","x":1,"y":1},
      {"s":"AUC at 5 years: 0.667","x":0,"y":0},{"s":"AUC at 5 years: 0.667","x":0.008,"y":0.26},{"s":"AUC at 5 years: 0.667","x":0.075,"y":0.27},{"s":"AUC at 5 years: 0.667","x":0.13,"y":0.32},{"s":"AUC at 5 years: 0.667","x":0.17,"y":0.39},{"s":"AUC at 5 years: 0.667","x":0.26,"y":0.39},{"s":"AUC at 5 years: 0.667","x":0.33,"y":0.44},{"s":"AUC at 5 years: 0.667","x":0.34,"y":0.61},{"s":"AUC at 5 years: 0.667","x":0.4,"y":0.69},{"s":"AUC at 5 years: 0.667","x":0.48,"y":0.74},{"s":"AUC at 5 years: 0.667","x":0.585,"y":0.82},{"s":"AUC at 5 years: 0.667","x":0.745,"y":0.9},{"s":"AUC at 5 years: 0.667","x":0.905,"y":0.935},{"s":"AUC at 5 years: 0.667","x":1,"y":1}
    ],
    "rocK": [
      {"s":"AUC at 1 years: 0.632","x":0,"y":0},{"s":"AUC at 1 years: 0.632","x":0.013,"y":0.11},{"s":"AUC at 1 years: 0.632","x":0.053,"y":0.21},{"s":"AUC at 1 years: 0.632","x":0.107,"y":0.26},{"s":"AUC at 1 years: 0.632","x":0.16,"y":0.34},{"s":"AUC at 1 years: 0.632","x":0.213,"y":0.5},{"s":"AUC at 1 years: 0.632","x":0.29,"y":0.55},{"s":"AUC at 1 years: 0.632","x":0.4,"y":0.61},{"s":"AUC at 1 years: 0.632","x":0.48,"y":0.66},{"s":"AUC at 1 years: 0.632","x":0.56,"y":0.74},{"s":"AUC at 1 years: 0.632","x":0.64,"y":0.79},{"s":"AUC at 1 years: 0.632","x":0.75,"y":0.85},{"s":"AUC at 1 years: 0.632","x":0.85,"y":0.935},{"s":"AUC at 1 years: 0.632","x":1,"y":1},
      {"s":"AUC at 3 years: 0.663","x":0,"y":0},{"s":"AUC at 3 years: 0.663","x":0.027,"y":0.065},{"s":"AUC at 3 years: 0.663","x":0.067,"y":0.18},{"s":"AUC at 3 years: 0.663","x":0.107,"y":0.34},{"s":"AUC at 3 years: 0.663","x":0.2,"y":0.355},{"s":"AUC at 3 years: 0.663","x":0.227,"y":0.45},{"s":"AUC at 3 years: 0.663","x":0.267,"y":0.6},{"s":"AUC at 3 years: 0.663","x":0.32,"y":0.63},{"s":"AUC at 3 years: 0.663","x":0.4,"y":0.71},{"s":"AUC at 3 years: 0.663","x":0.56,"y":0.73},{"s":"AUC at 3 years: 0.663","x":0.613,"y":0.79},{"s":"AUC at 3 years: 0.663","x":0.693,"y":0.87},{"s":"AUC at 3 years: 0.663","x":0.8,"y":0.92},{"s":"AUC at 3 years: 0.663","x":0.907,"y":0.95},{"s":"AUC at 3 years: 0.663","x":1,"y":1},
      {"s":"AUC at 5 years: 0.641","x":0,"y":0},{"s":"AUC at 5 years: 0.641","x":0.013,"y":0.065},{"s":"AUC at 5 years: 0.641","x":0.067,"y":0.145},{"s":"AUC at 5 years: 0.641","x":0.093,"y":0.24},{"s":"AUC at 5 years: 0.641","x":0.16,"y":0.27},{"s":"AUC at 5 years: 0.641","x":0.2,"y":0.34},{"s":"AUC at 5 years: 0.641","x":0.267,"y":0.42},{"s":"AUC at 5 years: 0.641","x":0.347,"y":0.5},{"s":"AUC at 5 years: 0.641","x":0.453,"y":0.61},{"s":"AUC at 5 years: 0.641","x":0.56,"y":0.68},{"s":"AUC at 5 years: 0.641","x":0.573,"y":0.82},{"s":"AUC at 5 years: 0.641","x":0.667,"y":0.9},{"s":"AUC at 5 years: 0.641","x":0.72,"y":0.935},{"s":"AUC at 5 years: 0.641","x":0.88,"y":0.985},{"s":"AUC at 5 years: 0.641","x":1,"y":1}
    ]
  },
  "resolve": {"scale": {"color": "independent"}, "legend": {"color": "independent"}},
  "spacing": 15,
  "vconcat": [
    {
      "spacing": -2,
      "resolve": {"scale": {"color": "independent"}, "legend": {"color": "independent"}},
      "vconcat": [
        {
          "spacing": 53,
          "resolve": {"scale": {"color": "independent"}, "legend": {"color": "independent"}},
          "hconcat": [
            {
              "spacing": 5,
              "resolve": {"scale": {"color": "independent"}, "legend": {"color": "independent"}},
              "hconcat": [
                {
                  "width": 180, "height": 145,
                  "view": {"stroke": null},
                  "title": {"text": "a", "offset": -8, "dx": -8},
                  "encoding": {
                    "x": {"field": "x", "type": "quantitative", "scale": {"domain": [3.5, 21.5], "nice": false, "zero": false}, "axis": null},
                    "y": {"field": "y", "type": "quantitative", "scale": {"domain": [2.2, 16.7], "nice": false, "zero": false, "reverse": true}, "axis": null}
                  },
                  "layer": [
                    {"data": {"values": [{"set": "TCGA", "x": 6.8, "y": 6.3}, {"set": "meta-GEO", "x": 10.75, "y": 6.3}]},
                     "mark": {"type": "point", "filled": true, "size": 8300, "opacity": 0.5, "strokeWidth": 0},
                     "encoding": {"color": {"field": "set", "type": "nominal", "scale": {"domain": ["TCGA", "meta-GEO"], "range": ["#001fad", "#c91519"]}, "legend": null}}},
                    {"data": {"values": [{"label": "TCGA", "x": 4.7, "y": 2.2}, {"label": "meta-GEO", "x": 12.9, "y": 11.0}, {"label": "21", "x": 4.2, "y": 6.4}, {"label": "32", "x": 8.7, "y": 6.4}, {"label": "49", "x": 13.2, "y": 6.4}]},
                     "mark": {"type": "text", "fontSize": 8, "color": "#222"},
                     "encoding": {"text": {"field": "label"}}},
                    {"data": {"values": [{"x": 8.9, "y": 9.3, "y2": 11.7}]},
                     "mark": {"type": "rule", "color": "#e8262d", "strokeWidth": 3},
                     "encoding": {"y2": {"field": "y2"}}},
                    {"data": {"values": [{"x": 8.9, "y": 11.9}]},
                     "mark": {"type": "point", "shape": "triangle-down", "filled": true, "size": 45, "color": "#e8262d", "opacity": 1}},
                    {"data": {"values": [
                       {"line": "IL7R, EREG, NMI, KCNA3, ITGA5, BTG2, GPC3, IL10RA", "x": 1.6, "y": 12.8},
                       {"line": "SERPINE1, ADM, SPHK1, NMUR1, PCDH7, GP1BA, CD69", "x": 1.6, "y": 13.6},
                       {"line": "TNFSF15, PSEN1, TLR2, LCK, MMP14, ATP2B1, RIPK2,", "x": 1.6, "y": 14.4},
                       {"line": "DCBLD2 CCR7, GNAI3, SCARF1, SEMA4D, MYC, PTPRE,", "x": 1.6, "y": 15.2},
                       {"line": "PVR, SLAMF1, PLAUR", "x": 1.6, "y": 15.95}]},
                     "mark": {"type": "text", "align": "left", "font": "Liberation Serif", "fontSize": 6.4, "color": "#111"},
                     "encoding": {"text": {"field": "line"}}}
                  ]
                },
                {
                  "width": 140, "height": 114,
                  "title": {"text": "b", "offset": -14, "dx": 8},
                  "data": {"name": "lasso"},
                  "layer": [
                    {"mark": {"type": "line", "strokeWidth": 0.9, "clip": true},
                     "encoding": {
                       "x": {"field": "x", "type": "quantitative", "scale": {"domain": [-7.5, -2.12], "nice": false, "zero": false}, "axis": {"orient": "bottom", "values": [-7, -6, -5, -4, -3], "title": "Log Lambda", "titlePadding": 8, "labelPadding": 3, "labelOverlap": false}},
                       "y": {"field": "y", "type": "quantitative", "scale": {"domain": [-1.78, 2.44], "nice": false, "zero": false}, "axis": {"values": [-1, 0, 1, 2], "title": "Coefficients", "titlePadding": 18, "labelOverlap": false}},
                       "color": {"field": "g", "type": "nominal", "legend": null, "scale": {"domain": ["L1","L2","L3","L4","L5","L6","L7","L8","L9","L10","L11","L12","L13","L14","L15","L16","L17","L18","L19","L20"], "range": ["#00cd00","#00e5ee","#00e5ee","#000000","#ff0000","#00cd00","#000000","#ff0000","#ff00ff","#0000ff","#00e5ee","#000000","#ff0000","#0000ff","#0000ff","#ff00ff","#00cd00","#0000ff","#ff0000","#ff00ff"]}}
                     }},
                    {"mark": {"type": "point", "opacity": 0},
                     "encoding": {"x": {"field": "x", "type": "quantitative", "scale": {"domain": [-7.5, -2.12], "nice": false, "zero": false}, "axis": {"orient": "top", "values": [-7, -6, -5, -4, -3], "labelExpr": "datum.value == -7 ? '29' : datum.value == -6 ? '27' : datum.value == -5 ? '23' : datum.value == -4 ? '17' : '11'", "ticks": false, "title": null, "labelPadding": 5, "labelOverlap": false}}}}
                  ]
                }
              ]
            },
            {
              "spacing": 9,
              "vconcat": [
                {
                  "width": 178, "height": 90,
                  "view": {"stroke": null},
                  "title": {"text": "e", "offset": -18, "dx": -4},
                  "encoding": {
                    "x": {"field": "t", "type": "quantitative", "scale": {"domain": [-0.9, 20.9], "nice": false, "zero": false}, "axis": {"values": [0, 2, 4, 6, 8, 10, 12, 14, 16, 18, 20], "title": "Time(years)", "domain": true, "domainColor": "#000", "titlePadding": 1, "labelPadding": 1, "tickSize": 2.5, "labelFontSize": 6, "labelOverlap": false}},
                    "color": {"field": "g", "type": "nominal", "scale": {"domain": ["High", "Low"], "range": ["#a82828", "#2020e8"]},
                              "legend": {"title": "IRGS", "orient": "none", "legendX": 58, "legendY": -16, "direction": "horizontal", "titleOrient": "left", "symbolType": "stroke", "symbolStrokeWidth": 1.2, "symbolSize": 60, "labelFontSize": 5.5, "titleFontSize": 5.5, "padding": 0, "columnPadding": 4}}
                  },
                  "layer": [
                    {"data": {"name": "km"},
                     "mark": {"type": "area", "interpolate": "step-after", "opacity": 0.38},
                     "encoding": {
                       "y": {"field": "lo", "type": "quantitative", "scale": {"domain": [-0.025, 1.086], "nice": false, "zero": false}, "axis": {"values": [0, 0.25, 0.5, 0.75, 1], "format": ".2f", "title": "Survival probability", "labelAngle": 0, "labelAlign": "right", "labelBaseline": "middle", "domain": true, "domainColor": "#000", "titlePadding": 2, "labelPadding": 1, "tickSize": 2.5, "labelFontSize": 6, "labelOverlap": false}},
                       "y2": {"field": "hi"}
                     }},
                    {"data": {"name": "km"},
                     "mark": {"type": "line", "interpolate": "step-after", "strokeWidth": 1.2},
                     "encoding": {
                       "y": {"field": "s", "type": "quantitative", "scale": {"domain": [-0.025, 1.086], "nice": false, "zero": false}}
                     }},
                    {"data": {"name": "cens"},
                     "mark": {"type": "point", "shape": "M-1,0L1,0M0,-1L0,1", "filled": false, "size": 14, "strokeWidth": 0.8, "opacity": 1},
                     "encoding": {
                       "y": {"field": "s", "type": "quantitative", "scale": {"domain": [-0.025, 1.086], "nice": false, "zero": false}}
                     }},
                    {"data": {"values": [{"t": 3.1, "s": 0.2, "label": "p<0.001"}]},
                     "mark": {"type": "text", "font": "Liberation Serif", "fontWeight": "bold", "fontSize": 8},
                     "encoding": {"y": {"field": "s", "type": "quantitative", "scale": {"domain": [-0.025, 1.086], "nice": false, "zero": false}}, "text": {"field": "label"}, "color": {"value": "#000"}}}
                  ]
                },
                {
                  "width": 178, "height": 13,
                  "view": {"stroke": null},
                  "data": {"name": "risk"},
                  "mark": {"type": "text", "fontSize": 5.8, "color": "#000"},
                  "encoding": {
                    "x": {"field": "t", "type": "quantitative", "scale": {"domain": [-0.9, 20.9], "nice": false, "zero": false}, "axis": {"values": [0, 2, 4, 6, 8, 10, 12, 14, 16, 18, 20], "title": "Time(years)", "domain": true, "domainColor": "#000", "titlePadding": 1, "labelPadding": 1, "tickSize": 2.5, "labelFontSize": 6, "labelOverlap": false}},
                    "y": {"field": "g", "type": "nominal", "sort": ["High", "Low"], "axis": {"title": "IRGS", "labelAngle": 0, "labelAlign": "right", "labelBaseline": "middle", "labelFontSize": 6, "labelColor": {"condition": {"test": "datum.value == 'High'", "value": "#b03030"}, "value": "#2020e8"}, "domain": true, "domainColor": "#000", "ticks": false, "titlePadding": 2, "labelPadding": 2}},
                    "text": {"field": "n"}
                  }
                }
              ]
            }
          ]
        },
        {
          "spacing": 4,
          "center": true,
          "resolve": {"scale": {"color": "independent"}, "legend": {"color": "independent"}},
          "hconcat": [
            {
              "spacing": 27,
              "center": true,
              "hconcat": [
                {
                  "width": 132, "height": 108,
                  "title": {"text": "c", "offset": -12, "dx": -6},
                  "data": {"name": "cv"},
                  "resolve": {"axis": {"x": "independent", "y": "independent"}},
                  "layer": [
                    {"mark": {"type": "rule", "color": "#a8a8a8", "strokeWidth": 0.6},
                     "encoding": {
                       "x": {"field": "l", "type": "quantitative", "scale": {"domain": [-7.29, -2.26], "nice": false, "zero": false}, "axis": {"orient": "bottom", "values": [-7, -6, -5, -4, -3], "title": "Log(λ)", "titlePadding": 8, "labelPadding": 3, "labelOverlap": false}},
                       "y": {"field": "lo", "type": "quantitative", "scale": {"domain": [14.057, 14.526], "nice": false, "zero": false}, "axis": {"orient": "left", "values": [14.1, 14.2, 14.3, 14.4, 14.5], "title": "Partial Likelihood Deviance", "titlePadding": 10, "labelOverlap": false}},
                       "y2": {"field": "hi"}}},
                    {"mark": {"type": "tick", "orient": "horizontal", "size": 2.2, "thickness": 0.6, "color": "#a8a8a8"},
                     "encoding": {"x": {"field": "l", "type": "quantitative", "scale": {"domain": [-7.29, -2.26], "nice": false, "zero": false}, "axis": null},
                                  "y": {"field": "lo", "type": "quantitative", "scale": {"domain": [14.057, 14.526], "nice": false, "zero": false}, "axis": null}}},
                    {"mark": {"type": "tick", "orient": "horizontal", "size": 2.2, "thickness": 0.6, "color": "#a8a8a8"},
                     "encoding": {"x": {"field": "l", "type": "quantitative", "scale": {"domain": [-7.29, -2.26], "nice": false, "zero": false}, "axis": null},
                                  "y": {"field": "hi", "type": "quantitative", "scale": {"domain": [14.057, 14.526], "nice": false, "zero": false}, "axis": null}}},
                    {"mark": {"type": "point", "filled": true, "size": 7, "color": "#ff0000", "opacity": 1},
                     "encoding": {"x": {"field": "l", "type": "quantitative", "scale": {"domain": [-7.29, -2.26], "nice": false, "zero": false}, "axis": null},
                                  "y": {"field": "m", "type": "quantitative", "scale": {"domain": [14.057, 14.526], "nice": false, "zero": false}, "axis": null}}},
                    {"data": {"values": [{"l": -4.37}, {"l": -2.37}]},
                     "mark": {"type": "rule", "strokeDash": [2, 2], "color": "#444", "strokeWidth": 0.7},
                     "encoding": {"x": {"field": "l", "type": "quantitative", "scale": {"domain": [-7.29, -2.26], "nice": false, "zero": false}, "axis": null}}},
                    {"mark": {"type": "point", "opacity": 0},
                     "encoding": {"x": {"field": "l", "type": "quantitative", "scale": {"domain": [-7.29, -2.26], "nice": false, "zero": false}, "axis": {"orient": "top", "values": [-7.04, -6.56, -6.0, -5.44, -4.9, -4.37, -3.83, -3.32, -2.85, -2.47], "labelExpr": "datum.value < -6.8 ? '29' : datum.value < -6.3 ? '29' : datum.value < -5.7 ? '27' : datum.value < -5.2 ? '27' : datum.value < -4.6 ? '21' : datum.value < -4.1 ? '18' : datum.value < -3.6 ? '16' : datum.value < -3.1 ? '12' : datum.value < -2.6 ? '7' : '3'", "ticks": false, "title": null, "labelPadding": 4, "labelOverlap": false}}}}
                  ]
                },
                {
                  "spacing": 0,
                  "bounds": "flush",
                  "hconcat": [
                    {
                      "width": 47, "height": 156,
                      "view": {"stroke": null},
                      "title": {"text": "d", "offset": 3, "dx": 0},
                      "data": {"name": "forest"},
                      "encoding": {"y": {"field": "gene", "type": "nominal", "scale": {"domain": ["ADM","GPC3","IL7R","NMI","NMUR1","PSEN1","PTPRE","PVR","SEMA4D","SERPINE1","SPHK1"], "paddingInner": 0, "paddingOuter": 0}, "axis": null}},
                      "layer": [
                        {"transform": [{"filter": "indexof(['ADM','IL7R','NMUR1','PTPRE','SEMA4D','SPHK1'], datum.gene) >= 0"}], "mark": {"type": "rect", "color": "#d2d2d2"}},
                        {"mark": {"type": "text", "align": "left", "dx": -18, "fontSize": 4.6, "fontWeight": "bold", "color": "#222"}, "encoding": {"text": {"field": "gene"}}}
                      ]
                    },
                    {
                      "width": 38, "height": 156,
                      "view": {"stroke": null},
                      "data": {"name": "forest"},
                      "encoding": {"y": {"field": "gene", "type": "nominal", "scale": {"domain": ["ADM","GPC3","IL7R","NMI","NMUR1","PSEN1","PTPRE","PVR","SEMA4D","SERPINE1","SPHK1"], "paddingInner": 0, "paddingOuter": 0}, "axis": null}},
                      "layer": [
                        {"transform": [{"filter": "indexof(['ADM','IL7R','NMUR1','PTPRE','SEMA4D','SPHK1'], datum.gene) >= 0"}], "mark": {"type": "rect", "color": "#d2d2d2"}},
                        {"mark": {"type": "text", "fontSize": 4.3, "fontStyle": "italic", "color": "#333"}, "encoding": {"text": {"field": "n"}}}
                      ]
                    },
                    {
                      "width": 30, "height": 156,
                      "view": {"stroke": null},
                      "data": {"name": "forest"},
                      "encoding": {"y": {"field": "gene", "type": "nominal", "scale": {"domain": ["ADM","GPC3","IL7R","NMI","NMUR1","PSEN1","PTPRE","PVR","SEMA4D","SERPINE1","SPHK1"], "paddingInner": 0, "paddingOuter": 0}, "axis": null}},
                      "layer": [
                        {"transform": [{"filter": "indexof(['ADM','IL7R','NMUR1','PTPRE','SEMA4D','SPHK1'], datum.gene) >= 0"}], "mark": {"type": "rect", "color": "#d2d2d2"}},
                        {"mark": {"type": "text", "fontSize": 4.3, "dy": -2.6, "color": "#333"}, "encoding": {"text": {"field": "hrt"}}},
                        {"mark": {"type": "text", "fontSize": 4.3, "dy": 2.8, "color": "#333"}, "encoding": {"text": {"field": "ci"}}}
                      ]
                    },
                    {
                      "width": 121, "height": 156,
                      "view": {"stroke": null},
                      "title": {"text": "Hazard ratio", "font": "Liberation Sans", "fontSize": 6.5, "fontWeight": "normal", "anchor": "middle", "frame": "group", "offset": 5, "dx": -44},
                      "data": {"name": "forest"},
                      "resolve": {"axis": {"x": "independent"}},
                      "encoding": {"y": {"field": "gene", "type": "nominal", "scale": {"domain": ["ADM","GPC3","IL7R","NMI","NMUR1","PSEN1","PTPRE","PVR","SEMA4D","SERPINE1","SPHK1"], "paddingInner": 0, "paddingOuter": 0}, "axis": null}},
                      "layer": [
                        {"transform": [{"filter": "indexof(['ADM','IL7R','NMUR1','PTPRE','SEMA4D','SPHK1'], datum.gene) >= 0"}], "mark": {"type": "rect", "color": "#d2d2d2"}},
                        {"data": {"values": [{"v": 1}]}, "mark": {"type": "rule", "strokeDash": [1, 1], "color": "#777", "strokeWidth": 0.8},
                         "encoding": {"x": {"field": "v", "type": "quantitative", "scale": {"type": "log", "domain": [0.666, 1.873], "nice": false}, "axis": null}, "y": null}},
                        {"mark": {"type": "rule", "color": "#000", "strokeWidth": 0.8},
                         "encoding": {"x": {"field": "lo", "type": "quantitative", "scale": {"type": "log", "domain": [0.666, 1.873], "nice": false}, "axis": null}, "x2": {"field": "hi"}}},
                        {"mark": {"type": "tick", "orient": "vertical", "size": 3, "thickness": 0.7, "color": "#000"},
                         "encoding": {"x": {"field": "lo", "type": "quantitative", "scale": {"type": "log", "domain": [0.666, 1.873], "nice": false}, "axis": null}}},
                        {"mark": {"type": "tick", "orient": "vertical", "size": 3, "thickness": 0.7, "color": "#000"},
                         "encoding": {"x": {"field": "hi", "type": "quantitative", "scale": {"type": "log", "domain": [0.666, 1.873], "nice": false}, "axis": null}}},
                        {"mark": {"type": "point", "shape": "square", "filled": true, "size": 22, "color": "#000", "opacity": 1},
                         "encoding": {"x": {"field": "hr", "type": "quantitative", "scale": {"type": "log", "domain": [0.666, 1.873], "nice": false},
                           "axis": {"orient": "bottom", "values": [0.8, 1, 1.2, 1.4, 1.6, 1.8], "format": "~g", "labelFontSize": 4.8, "labelColor": "#444", "ticks": false, "labelPadding": 13, "labelOverlap": false,
                                    "title": ["# Events: 642; Global p-value (Log-Rank): 7.2011e-24", "AIC: 8506.99; Concordance Index: 0.65"],
                                    "titleFontSize": 4.6, "titleFontStyle": "italic", "titleColor": "#333", "titleAlign": "left", "titleAnchor": "start", "titleX": -112, "titleY": 4, "titleBaseline": "top", "titleLineHeight": 7}}}}
                      ]
                    },
                    {
                      "width": 18, "height": 156,
                      "view": {"stroke": null},
                      "data": {"name": "forest"},
                      "encoding": {"y": {"field": "gene", "type": "nominal", "scale": {"domain": ["ADM","GPC3","IL7R","NMI","NMUR1","PSEN1","PTPRE","PVR","SEMA4D","SERPINE1","SPHK1"], "paddingInner": 0, "paddingOuter": 0}, "axis": null}},
                      "layer": [
                        {"transform": [{"filter": "indexof(['ADM','IL7R','NMUR1','PTPRE','SEMA4D','SPHK1'], datum.gene) >= 0"}], "mark": {"type": "rect", "color": "#d2d2d2"}},
                        {"mark": {"type": "text", "align": "left", "dx": -8, "fontSize": 4.5, "fontStyle": "italic", "color": "#333"}, "encoding": {"text": {"field": "p"}}}
                      ]
                    }
                  ]
                }
              ]
            },
            {
              "spacing": 0,
              "resolve": {"scale": {"color": "independent"}, "legend": {"color": "independent"}},
              "vconcat": [
                {
                  "width": 177, "height": 62,
                  "title": {"text": "f", "offset": -3, "dx": -8},
                  "encoding": {
                    "x": {"field": "p", "type": "quantitative", "scale": {"domain": [-64, 1680], "nice": false, "zero": false}, "axis": {"values": [0, 500, 1000, 1500], "format": "d", "title": "Patients (increasing IRGS)", "titlePadding": 3, "labelPadding": 2, "labelOverlap": false}},
                    "y": {"field": "r", "type": "quantitative", "scale": {"domain": [-0.24, 6.2], "nice": false, "zero": false}, "axis": {"values": [0, 1, 2, 3, 4, 5, 6], "title": "IRGS", "titlePadding": 6, "labelFontSize": 6, "labelOverlap": false}}
                  },
                  "layer": [
                    {"data": {"name": "rs"},
                     "mark": {"type": "point", "filled": true, "size": 11, "opacity": 1},
                     "encoding": {
                       "color": {"field": "g", "type": "nominal", "scale": {"domain": ["High", "Low"], "range": ["#ff0000", "#22dd22"]}, "legend": {"orient": "top-left", "title": null, "symbolType": "circle", "labelFontSize": 8, "symbolSize": 35, "offset": 2, "rowPadding": 0, "padding": 2}}
                     }},
                    {"data": {"values": [{"p": 808, "r": -0.24, "r2": 6.2}]}, "mark": {"type": "rule", "strokeDash": [1.5, 1.5], "color": "#555", "strokeWidth": 0.8},
                     "encoding": {"y2": {"field": "r2"}}},
                    {"data": {"values": [{"p": -64, "p2": 1680, "r": 0.98}]}, "mark": {"type": "rule", "strokeDash": [1.5, 1.5], "color": "#555", "strokeWidth": 0.8},
                     "encoding": {"x2": {"field": "p2"}}}
                  ]
                },
                {
                  "width": 177, "height": 57,
                  "title": {"text": "g", "offset": -2, "dx": -8},
                  "encoding": {
                    "x": {"field": "p", "type": "quantitative", "scale": {"domain": [-64, 1680], "nice": false, "zero": false}, "axis": {"values": [0, 500, 1000, 1500], "format": "d", "title": "Patients (increasing IRGS)", "titlePadding": 3, "labelPadding": 2, "labelOverlap": false}},
                    "y": {"field": "t", "type": "quantitative", "scale": {"domain": [-0.75, 19], "nice": false, "zero": false}, "axis": {"values": [0, 5, 10, 15], "title": "Survival time (years)", "titleFontSize": 6.3, "titlePadding": 5, "labelFontSize": 6, "labelOverlap": false}}
                  },
                  "layer": [
                    {"data": {"name": "st"},
                     "mark": {"type": "point", "filled": true, "size": 16, "opacity": 1},
                     "encoding": {
                       "color": {"field": "g", "type": "nominal", "scale": {"domain": ["Dead", "Alive"], "range": ["#ff0000", "#22dd22"]}, "legend": {"orient": "top-left", "title": null, "symbolType": "circle", "labelFontSize": 8, "symbolSize": 35, "offset": 2, "rowPadding": 0, "padding": 2}}
                     }},
                    {"data": {"values": [{"p": 808, "t": -0.75, "t2": 19}]}, "mark": {"type": "rule", "strokeDash": [1.5, 1.5], "color": "#555", "strokeWidth": 0.8},
                     "encoding": {"y2": {"field": "t2"}}}
                  ]
                }
              ]
            }
          ]
        }
      ]
    },
    {
      "spacing": 8,
      "resolve": {"scale": {"color": "independent"}, "legend": {"color": "independent"}},
      "hconcat": [
        {
          "width": 130, "height": 112,
          "title": {"text": "h", "offset": -30, "dx": -4},
          "encoding": {
            "x": {"field": "x", "type": "quantitative", "scale": {"domain": [-0.04, 1.04], "nice": false}, "axis": {"values": [0, 0.2, 0.4, 0.6, 0.8, 1], "format": ".1f", "title": "1−Specificity", "titlePadding": 6, "labelPadding": 3, "labelFontSize": 6.5, "labelOverlap": false}},
            "y": {"field": "y", "type": "quantitative", "scale": {"domain": [-0.04, 1.04], "nice": false}, "axis": {"values": [0, 0.2, 0.4, 0.6, 0.8, 1], "format": ".1f", "title": "Sensitivity", "titlePadding": 8, "labelFontSize": 6.5, "labelOverlap": false}}
          },
          "layer": [
            {"data": {"values": [{"x": 0, "y": 0, "x2": 1, "y2": 1}]}, "mark": {"type": "rule", "strokeDash": [2, 2], "color": "#777", "strokeWidth": 0.7},
             "encoding": {"x2": {"field": "x2"}, "y2": {"field": "y2"}}},
            {"data": {"name": "rocH"}, "mark": {"type": "line", "strokeWidth": 1.1},
             "encoding": {
               "color": {"field": "s", "type": "nominal", "scale": {"domain": ["AUC at 1 years: 0.690", "AUC at 3 years: 0.690", "AUC at 5 years: 0.668"], "range": ["#44e044", "#3535ff", "#ff3535"]},
                         "legend": {"title": "IRG signature", "orient": "bottom-right", "offset": 3, "titleFontSize": 8.5, "titleAnchor": "middle", "labelFontSize": 6.5, "symbolType": "stroke", "symbolSize": 120, "symbolStrokeWidth": 2, "rowPadding": 0, "titlePadding": 1, "padding": 0}}
             }}
          ]
        },
        {
          "width": 130, "height": 112,
          "title": {"text": "i", "offset": -30, "dx": -4},
          "encoding": {
            "x": {"field": "x", "type": "quantitative", "scale": {"domain": [-0.04, 1.04], "nice": false}, "axis": {"values": [0, 0.2, 0.4, 0.6, 0.8, 1], "format": ".1f", "title": "1−Specificity", "titlePadding": 6, "labelPadding": 3, "labelFontSize": 6.5, "labelOverlap": false}},
            "y": {"field": "y", "type": "quantitative", "scale": {"domain": [-0.04, 1.04], "nice": false}, "axis": {"values": [0, 0.2, 0.4, 0.6, 0.8, 1], "format": ".1f", "title": "Sensitivity", "titlePadding": 8, "labelFontSize": 6.5, "labelOverlap": false}}
          },
          "layer": [
            {"data": {"values": [{"x": 0, "y": 0, "x2": 1, "y2": 1}]}, "mark": {"type": "rule", "strokeDash": [2, 2], "color": "#777", "strokeWidth": 0.7},
             "encoding": {"x2": {"field": "x2"}, "y2": {"field": "y2"}}},
            {"data": {"name": "rocI"}, "mark": {"type": "line", "strokeWidth": 1.1},
             "encoding": {
               "color": {"field": "s", "type": "nominal", "scale": {"domain": ["AUC at 1 years: 0.618", "AUC at 3 years: 0.625", "AUC at 5 years: 0.607"], "range": ["#44e044", "#3535ff", "#ff3535"]},
                         "legend": {"title": "Shi signature", "orient": "bottom-right", "offset": 3, "titleFontSize": 8.5, "titleAnchor": "middle", "labelFontSize": 6.5, "symbolType": "stroke", "symbolSize": 120, "symbolStrokeWidth": 2, "rowPadding": 0, "titlePadding": 1, "padding": 0}}
             }}
          ]
        },
        {
          "width": 130, "height": 112,
          "title": {"text": "j", "offset": -30, "dx": -4},
          "encoding": {
            "x": {"field": "x", "type": "quantitative", "scale": {"domain": [-0.04, 1.04], "nice": false}, "axis": {"values": [0, 0.2, 0.4, 0.6, 0.8, 1], "format": ".1f", "title": "1−Specificity", "titlePadding": 6, "labelPadding": 3, "labelFontSize": 6.5, "labelOverlap": false}},
            "y": {"field": "y", "type": "quantitative", "scale": {"domain": [-0.04, 1.04], "nice": false}, "axis": {"values": [0, 0.2, 0.4, 0.6, 0.8, 1], "format": ".1f", "title": "Sensitivity", "titlePadding": 8, "labelFontSize": 6.5, "labelOverlap": false}}
          },
          "layer": [
            {"data": {"values": [{"x": 0, "y": 0, "x2": 1, "y2": 1}]}, "mark": {"type": "rule", "strokeDash": [2, 2], "color": "#777", "strokeWidth": 0.7},
             "encoding": {"x2": {"field": "x2"}, "y2": {"field": "y2"}}},
            {"data": {"name": "rocJ"}, "mark": {"type": "line", "strokeWidth": 1.1},
             "encoding": {
               "color": {"field": "s", "type": "nominal", "scale": {"domain": ["AUC at 1 years: 0.684", "AUC at 3 years: 0.687", "AUC at 5 years: 0.667"], "range": ["#44e044", "#3535ff", "#ff3535"]},
                         "legend": {"title": "Yi signature", "orient": "bottom-right", "offset": 3, "titleFontSize": 8.5, "titleAnchor": "middle", "labelFontSize": 6.5, "symbolType": "stroke", "symbolSize": 120, "symbolStrokeWidth": 2, "rowPadding": 0, "titlePadding": 1, "padding": 0}}
             }}
          ]
        },
        {
          "width": 130, "height": 112,
          "title": {"text": "k", "offset": -30, "dx": -4},
          "encoding": {
            "x": {"field": "x", "type": "quantitative", "scale": {"domain": [-0.04, 1.04], "nice": false}, "axis": {"values": [0, 0.2, 0.4, 0.6, 0.8, 1], "format": ".1f", "title": "1−Specificity", "titlePadding": 6, "labelPadding": 3, "labelFontSize": 6.5, "labelOverlap": false}},
            "y": {"field": "y", "type": "quantitative", "scale": {"domain": [-0.04, 1.04], "nice": false}, "axis": {"values": [0, 0.2, 0.4, 0.6, 0.8, 1], "format": ".1f", "title": "Sensitivity", "titlePadding": 8, "labelFontSize": 6.5, "labelOverlap": false}}
          },
          "layer": [
            {"data": {"values": [{"x": 0, "y": 0, "x2": 1, "y2": 1}]}, "mark": {"type": "rule", "strokeDash": [2, 2], "color": "#777", "strokeWidth": 0.7},
             "encoding": {"x2": {"field": "x2"}, "y2": {"field": "y2"}}},
            {"data": {"name": "rocK"}, "mark": {"type": "line", "strokeWidth": 1.1},
             "encoding": {
               "color": {"field": "s", "type": "nominal", "scale": {"domain": ["AUC at 1 years: 0.632", "AUC at 3 years: 0.663", "AUC at 5 years: 0.641"], "range": ["#44e044", "#3535ff", "#ff3535"]},
                         "legend": {"title": "Zhang signature", "orient": "bottom-right", "offset": 3, "titleFontSize": 8.5, "titleAnchor": "middle", "labelFontSize": 6.5, "symbolType": "stroke", "symbolSize": 120, "symbolStrokeWidth": 2, "rowPadding": 0, "titlePadding": 1, "padding": 0}}
             }}
          ]
        }
      ]
    }
  ]
}
